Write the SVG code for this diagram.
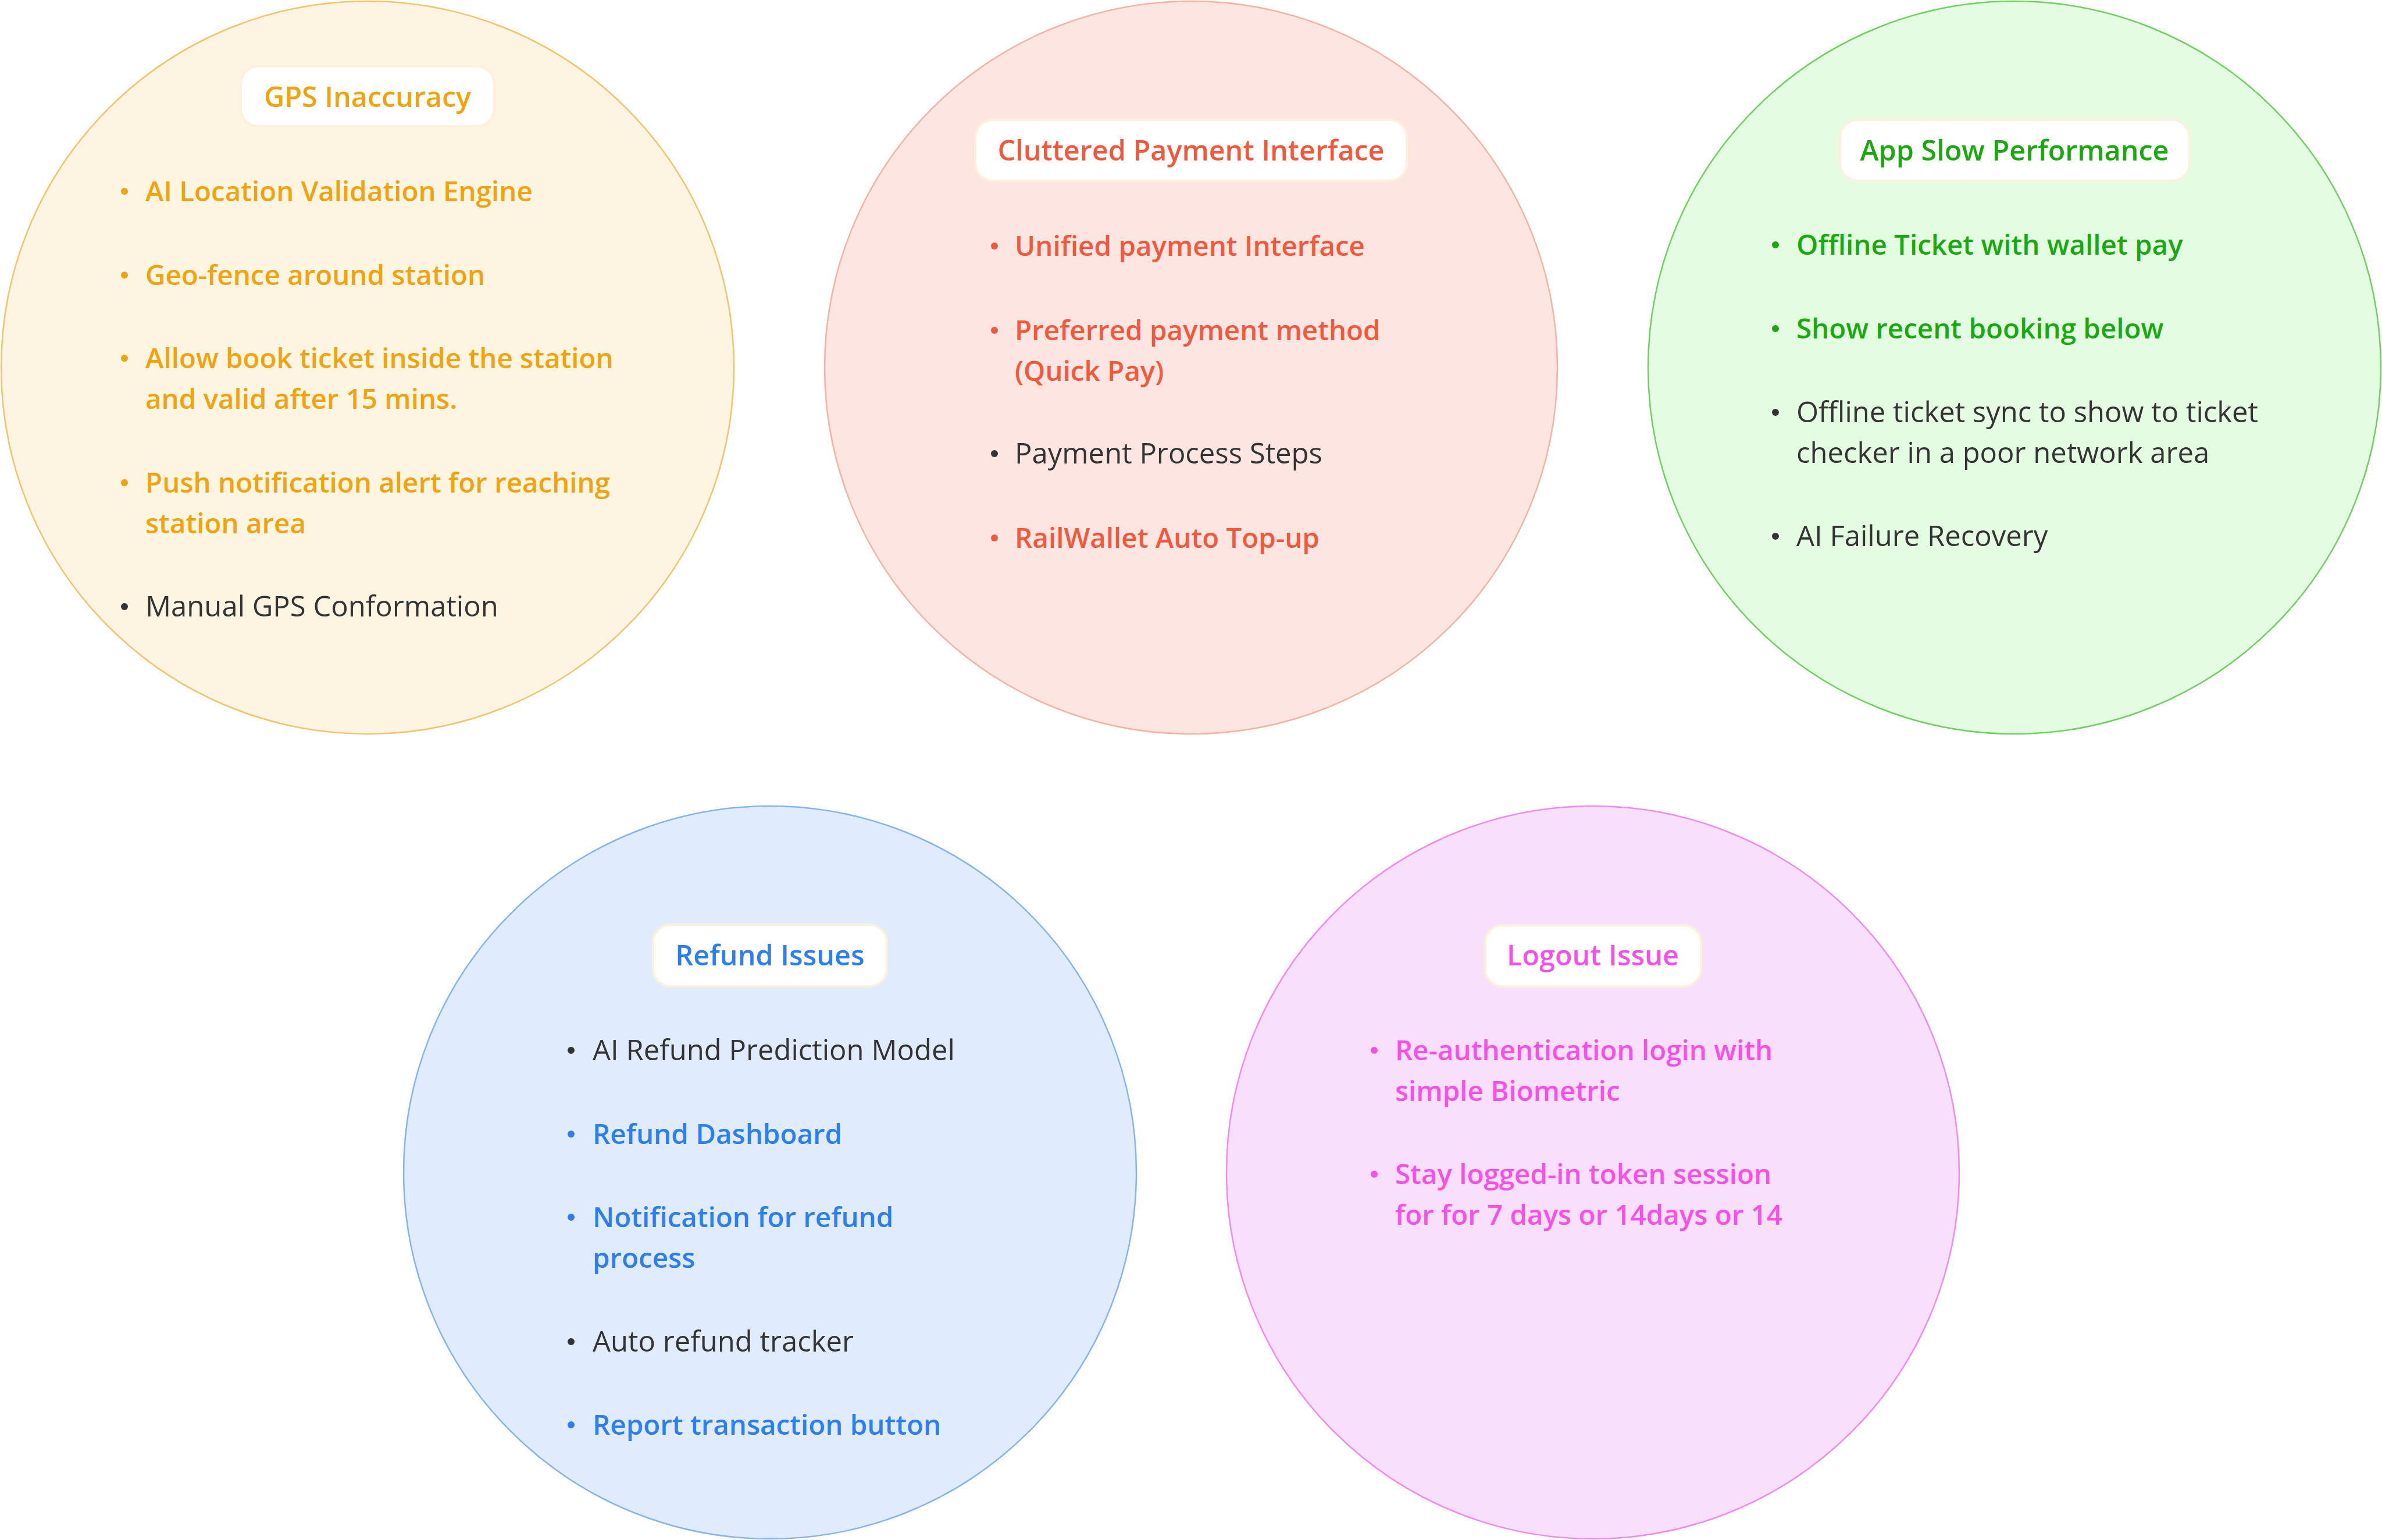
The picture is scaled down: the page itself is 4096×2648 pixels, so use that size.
<svg xmlns="http://www.w3.org/2000/svg" width="4096" height="2648" viewBox="0 0 4096 2648">
<style>
text{font-family:"Open Sans","Noto Sans",sans-serif}
.t{font-size:48.5px;font-weight:600;text-anchor:middle}
.i{font-size:47.5px;font-weight:600}
.d{font-size:49px;font-weight:400;fill:#333333}
.box{fill:#ffffff;stroke:#FDF0DC;stroke-width:4}
.c1{fill:#FEF4E2;stroke:#F2C46A;stroke-width:2.5}
.c2{fill:#FDE6E2;stroke:#F4B3A3;stroke-width:2.5}
.c3{fill:#E4FCE1;stroke:#6FCF60;stroke-width:2.5}
.c4{fill:#E0ECFD;stroke:#86B4EE;stroke-width:2.5}
.c5{fill:#F8E0FC;stroke:#F08AF0;stroke-width:2.5}
.o{fill:#F0A30A}.r{fill:#F5573B}.g{fill:#18AA0C}.b{fill:#2D7FF0}.m{fill:#F74FE8}.k{fill:#333333}
</style>
<rect width="4096" height="2648" fill="#ffffff"/>
<g id="gps">
<circle class="c1" cx="632" cy="632" r="630"/>
<rect class="box" x="414" y="114" width="436" height="103" rx="30"/>
<text class="t o" x="632" y="184">GPS Inaccuracy</text>
<circle class="o" cx="214" cy="329" r="6"/><text class="i o" x="250" y="346">AI Location Validation Engine</text>
<circle class="o" cx="214" cy="473" r="6"/><text class="i o" x="250" y="490">Geo-fence around station</text>
<circle class="o" cx="214" cy="616" r="6"/><text class="i o" x="250" y="633">Allow book ticket inside the station</text>
<text class="i o" x="250" y="703">and valid after 15 mins.</text>
<circle class="o" cx="214" cy="830" r="6"/><text class="i o" x="250" y="847">Push notification alert for reaching</text>
<text class="i o" x="250" y="917">station area</text>
<circle class="k" cx="214" cy="1043" r="6"/><text class="d" x="250" y="1060">Manual GPS Conformation</text>
</g>
<g id="payment">
<circle class="c2" cx="2048" cy="632" r="630"/>
<rect class="box" x="1677" y="206" width="742" height="105" rx="30"/>
<text class="t r" x="2048" y="276">Cluttered Payment Interface</text>
<circle class="r" cx="1710" cy="423" r="6"/><text class="i r" x="1745" y="440">Unified payment Interface</text>
<circle class="r" cx="1710" cy="568" r="6"/><text class="i r" x="1745" y="585">Preferred payment method</text>
<text class="i r" x="1745" y="655">(Quick Pay)</text>
<circle class="k" cx="1710" cy="780" r="6"/><text class="d" x="1745" y="797">Payment Process Steps</text>
<circle class="r" cx="1710" cy="925" r="6"/><text class="i r" x="1745" y="942">RailWallet Auto Top-up</text>
</g>
<g id="slow">
<circle class="c3" cx="3464" cy="632" r="630"/>
<rect class="box" x="3164" y="206" width="601" height="105" rx="30"/>
<text class="t g" x="3464" y="276">App Slow Performance</text>
<circle class="g" cx="3053" cy="421" r="6"/><text class="i g" x="3089" y="438">Offline Ticket with wallet pay</text>
<circle class="g" cx="3053" cy="565" r="6"/><text class="i g" x="3089" y="582">Show recent booking below</text>
<circle class="k" cx="3053" cy="709" r="6"/><text class="d" x="3089" y="726">Offline ticket sync to show to ticket</text>
<text class="d" x="3089" y="796">checker in a poor network area</text>
<circle class="k" cx="3053" cy="922" r="6"/><text class="d" x="3089" y="939">AI Failure Recovery</text>
</g>
<g id="refund">
<circle class="c4" cx="1324" cy="2016" r="630"/>
<rect class="box" x="1123" y="1590" width="402" height="106" rx="30"/>
<text class="t b" x="1324" y="1660">Refund Issues</text>
<circle class="k" cx="982" cy="1806" r="6"/><text class="d" x="1019" y="1823">AI Refund Prediction Model</text>
<circle class="b" cx="982" cy="1950" r="6"/><text class="i b" x="1019" y="1967">Refund Dashboard</text>
<circle class="b" cx="982" cy="2093" r="6"/><text class="i b" x="1019" y="2110">Notification for refund</text>
<text class="i b" x="1019" y="2180">process</text>
<circle class="k" cx="982" cy="2307" r="6"/><text class="d" x="1019" y="2324">Auto refund tracker</text>
<circle class="b" cx="982" cy="2450" r="6"/><text class="i b" x="1019" y="2467">Report transaction button</text>
</g>
<g id="logout">
<circle class="c5" cx="2739" cy="2016" r="630"/>
<rect class="box" x="2554" y="1591" width="371" height="105" rx="30"/>
<text class="t m" x="2739" y="1660">Logout Issue</text>
<circle class="m" cx="2363" cy="1806" r="6"/><text class="i m" x="2399" y="1823">Re-authentication login with</text>
<text class="i m" x="2399" y="1893">simple Biometric</text>
<circle class="m" cx="2363" cy="2019" r="6"/><text class="i m" x="2399" y="2036">Stay logged-in token session</text>
<text class="i m" x="2399" y="2106">for for 7 days or 14days or 14</text>
</g>
<g id="connectors"></g>
</svg>
